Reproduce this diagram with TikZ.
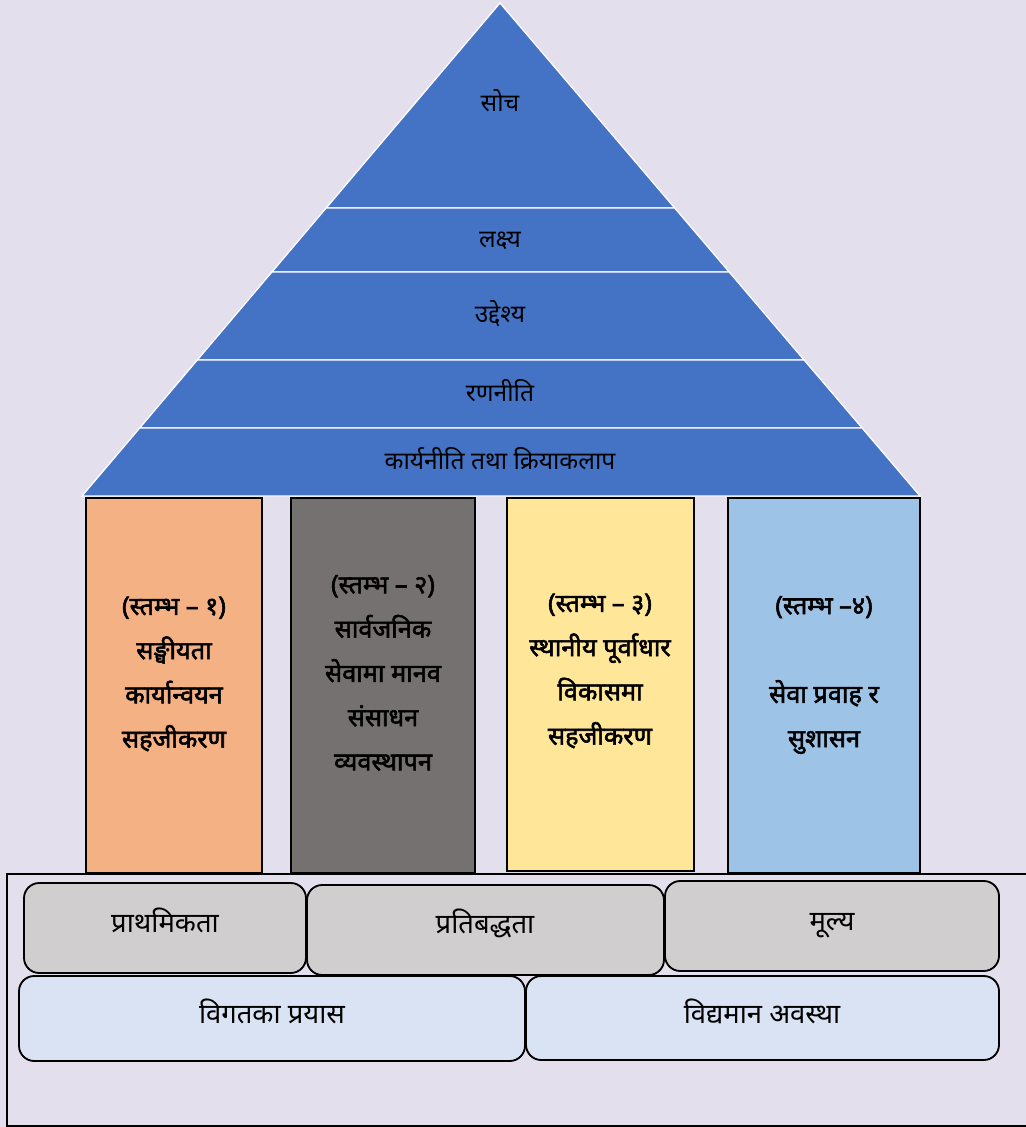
\documentclass[tikz,border=0pt]{standalone}
\usepackage{fontspec}
\newfontfamily\deva[Script=Devanagari]{Noto Sans}
\newfontfamily\devabold[Script=Devanagari, FakeBold=2.2]{Noto Sans}
\definecolor{bgcol}{HTML}{E4DFEC}
\definecolor{pyrblue}{HTML}{4472C4}
\definecolor{pilA}{HTML}{F4B183}
\definecolor{pilB}{HTML}{767171}
\definecolor{pilC}{HTML}{FFE699}
\definecolor{pilD}{HTML}{9DC3E6}
\definecolor{rowA}{HTML}{D0CECE}
\definecolor{rowB}{HTML}{DAE3F3}
\tikzset{
  layer/.style={fill=pyrblue, draw=white, line width=0.9pt},
  pillar/.style={draw=black, line width=1.3pt},
  rowbox/.style={draw=black, line width=1.3pt, rounded corners=0.38cm},
  pyrtext/.style={anchor=base, font=\deva\fontsize{17.5}{20}\selectfont},
  pillartext/.style={align=center, font=\devabold\fontsize{18}{31.5}\selectfont},
  rowtext/.style={anchor=base, font=\deva\fontsize{19.5}{23}\selectfont}
}

\begin{document}
\begin{tikzpicture}[x=0.025cm, y=-0.025cm]
  \useasboundingbox[fill=bgcol] (0,0) rectangle (1026,1127);
  % pyramid
  \draw[layer] (500,3) -- (674.7,208) -- (326.2,208) -- cycle;
  \draw[layer] (326.2,208) -- (674.7,208) -- (729.2,272) -- (271.9,272) -- cycle;
  \draw[layer] (271.9,272) -- (729.2,272) -- (804.1,360) -- (197.3,360) -- cycle;
  \draw[layer] (197.3,360) -- (804.1,360) -- (862.1,428) -- (139.7,428) -- cycle;
  \draw[layer] (139.7,428) -- (862.1,428) -- (920,496) -- (82,496) -- cycle;
  \node[pyrtext] (soch) at (500,111) {सोच};
  \node[pyrtext] (lakshya) at (500,247) {लक्ष्य};
  \node[pyrtext] (uddeshya) at (500,322) {उद्देश्य};
  \node[pyrtext] (ranniti) at (500,401) {रणनीति};
  \node[pyrtext] (karyaniti) at (500,469) {कार्यनीति तथा क्रियाकलाप};
  % pillars
  \draw[pillar, fill=pilA] (86,498) rectangle (262,873);
  \draw[pillar, fill=pilB] (291,498) rectangle (475,873);
  \draw[pillar, fill=pilC] (507,498) rectangle (694,871);
  \draw[pillar, fill=pilD] (728,498) rectangle (920,873);
  \node[pillartext] (stambhaA) at (174,674) {(स्तम्भ – १)\\सङ्घीयता\\कार्यान्वयन\\सहजीकरण};
  \node[pillartext] (stambhaB) at (383,673) {(स्तम्भ – २)\\सार्वजनिक\\सेवामा मानव\\संसाधन\\व्यवस्थापन};
  \node[pillartext] (stambhaC) at (600,671) {(स्तम्भ – ३)\\स्थानीय पूर्वाधार\\विकासमा\\सहजीकरण};
  \node[pillartext] (stambhaD) at (824,675) {(स्तम्भ –४)\\\\सेवा प्रवाह र\\सुशासन};
  % base
  \draw[line width=1.1pt] (1026,874) -- (7,874) -- (7,1126) -- (1026,1126);
  \draw[rowbox, fill=rowA] (24,883) rectangle (306,973);
  \draw[rowbox, fill=rowA] (307,885) rectangle (664,975);
  \draw[rowbox, fill=rowA] (665,881) rectangle (999,971);
  \draw[rowbox, fill=rowB] (19,976) rectangle (525,1061);
  \draw[rowbox, fill=rowB] (526,976) rectangle (999,1060);
  \node[rowtext] (prathamikata) at (165,932) {प्राथमिकता};
  \node[rowtext] (pratibaddhata) at (485,933) {प्रतिबद्धता};
  \node[rowtext] (mulya) at (832,930) {मूल्य};
  \node[rowtext] (vigat) at (272,1023) {विगतका प्रयास};
  \node[rowtext] (vidyaman) at (762,1023) {विद्यमान अवस्था};
\end{tikzpicture}
\end{document}
